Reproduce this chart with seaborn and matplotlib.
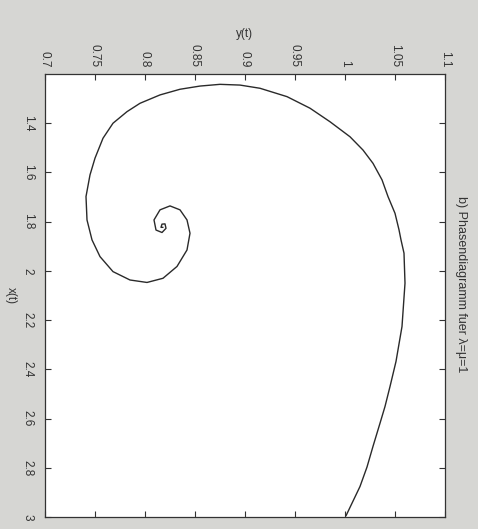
import matplotlib
matplotlib.use("Agg")
import matplotlib.pyplot as plt
import seaborn as sns
import pandas as pd

# trajectory (in order of time)
x_t = [2.995, 2.876, 2.797, 2.713, 2.619, 2.551, 2.470, 2.368, 2.226, 2.050,
       1.928, 1.874, 1.833, 1.766, 1.698, 1.630, 1.563, 1.509, 1.455, 1.394,
       1.339, 1.292, 1.258, 1.245, 1.242, 1.249, 1.262, 1.285, 1.319, 1.353,
       1.400, 1.461, 1.542, 1.610, 1.698, 1.793, 1.874, 1.942, 2.003, 2.037,
       2.047, 2.030, 1.982, 1.915, 1.847, 1.793, 1.752, 1.736, 1.752, 1.793,
       1.834, 1.844, 1.827, 1.809, 1.810, 1.823, 1.823]
y_t = [1.001, 1.015, 1.022, 1.028, 1.035, 1.040, 1.045, 1.051, 1.057, 1.060,
       1.059, 1.056, 1.054, 1.050, 1.043, 1.037, 1.028, 1.018, 1.005, 0.985,
       0.965, 0.942, 0.915, 0.895, 0.875, 0.855, 0.835, 0.815, 0.795, 0.782,
       0.768, 0.758, 0.750, 0.745, 0.741, 0.742, 0.747, 0.755, 0.768, 0.785,
       0.802, 0.818, 0.832, 0.842, 0.845, 0.842, 0.835, 0.825, 0.815, 0.809,
       0.811, 0.817, 0.821, 0.820, 0.817, 0.816, 0.818]

x_ticks = [1.4, 1.6, 1.8, 2.0, 2.2, 2.4, 2.6, 2.8, 3.0]
x_ticklabels = ["1.4", "1.6", "1.8", "2", "2.2", "2.4", "2.6", "2.8", "3"]
y_ticks = [0.7, 0.75, 0.8, 0.85, 0.9, 0.95, 1.0, 1.05, 1.1]
y_ticklabels = ["0.7", "0.75", "0.8", "0.85", "0.9", "0.95", "1", "1.05", "1.1"]
title = "b) Phasendiagramm fuer λ=μ=1"

sns.set_style("white")
plt.rcParams["font.family"] = ["Liberation Sans", "DejaVu Sans"]

bg = "#d6d6d3"
fig = plt.figure(figsize=(4.78, 5.29), dpi=100, facecolor=bg)
ax = fig.add_axes([45 / 478, 12 / 529, 400 / 478, 443 / 529])
ax.set_facecolor("white")

df = pd.DataFrame({"x": x_t, "y": y_t})
# picture is rotated: y(t) runs horizontally, x(t) runs downward
sns.lineplot(data=df, x="y", y="x", sort=False, estimator=None,
             color="#2a2a2a", linewidth=1.0, ax=ax)

ax.set_xlim(0.7, 1.1)
ax.set_ylim(3.0, 1.2)
ax.xaxis.tick_top()
ax.xaxis.set_label_position("top")
ax.set_xticks(y_ticks)
ax.set_xticklabels(y_ticklabels)
ax.set_yticks(x_ticks)
ax.set_yticklabels(x_ticklabels)

ax.tick_params(axis="both", direction="in", length=4, width=0.8, color="#333333",
               labelsize=8.5, labelcolor="#333333", top=True, bottom=True, left=True, right=True,
               labeltop=True, labelbottom=False, labelleft=True, labelright=False)
ax.tick_params(axis="x", pad=5, labelrotation=-90)
ax.tick_params(axis="y", pad=8, labelrotation=-90)
for lab in ax.get_yticklabels():
    lab.set_va("center")

for s in ax.spines.values():
    s.set_color("#333333")
    s.set_linewidth(0.9)

ax.set_xlabel("y(t)", fontsize=8.5, color="#333333", labelpad=5)
ax.set_ylabel("x(t)", fontsize=8.5, color="#333333", rotation=-90, labelpad=8, va="center")

ax.text(1.04, 0.525, title, transform=ax.transAxes, rotation=-90, fontsize=9,
        color="#333333", ha="center", va="center")

fig.savefig("out.png", dpi=100, facecolor=bg)
